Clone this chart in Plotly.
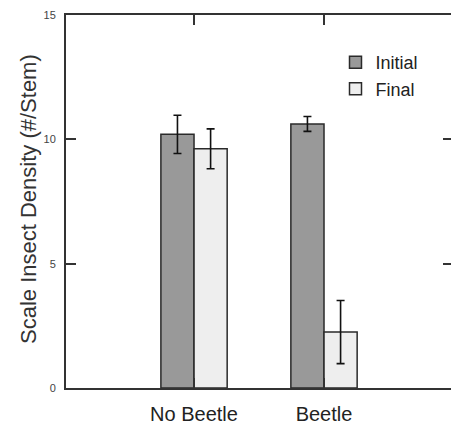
import plotly.graph_objects as go

categories = ["No Beetle", "Beetle"]
initial_vals = [10.2, 10.62]
initial_err = [0.77, 0.3]
final_vals = [9.62, 2.25]
final_err = [0.8, 1.27]
y_ticks = [0, 5, 10, 15]

fig = go.Figure()
fig.add_trace(go.Bar(
    x=categories, y=initial_vals, name="Initial",
    marker=dict(color="#999999", line=dict(color="#2a2a2a", width=1.5)),
    error_y=dict(type="data", array=initial_err, color="#111111", thickness=1.6, width=4),
))
fig.add_trace(go.Bar(
    x=categories, y=final_vals, name="Final",
    marker=dict(color="#eeeeee", line=dict(color="#2a2a2a", width=1.5)),
    error_y=dict(type="data", array=final_err, color="#111111", thickness=1.6, width=4),
))
# invisible trace to carry the right-side tick axis
fig.add_trace(go.Scatter(x=categories, y=[0, 0], yaxis="y2", mode="markers",
                         marker=dict(opacity=0), showlegend=False, hoverinfo="skip"))

fig.update_layout(
    width=451, height=427,
    margin=dict(l=66, r=0, t=15, b=39, autoexpand=False),
    paper_bgcolor="white", plot_bgcolor="white",
    barmode="group", bargap=0.49, bargroupgap=0,
    font=dict(family="Liberation Sans, Arial, sans-serif", color="#333333"),
    showlegend=True,
    legend=dict(x=0.70, y=0.922, xanchor="left", yanchor="top",
                font=dict(size=18, color="#222222"), bgcolor="rgba(0,0,0,0)",
                tracegroupgap=0, itemwidth=30),
    xaxis=dict(
        range=[-0.985, 1.977], showline=True, linecolor="#333333", linewidth=2,
        mirror="ticks", ticks="inside", ticklen=10, tickwidth=2, tickcolor="#333333",
        tickfont=dict(size=20, color="#222222"), ticklabelstandoff=7,
        showgrid=False, zeroline=False, automargin=False,
    ),
    yaxis=dict(
        range=[0, 15], tickvals=y_ticks, showline=True, linecolor="#333333", linewidth=2,
        ticks="inside", ticklen=10, tickwidth=2, tickcolor="#333333",
        tickfont=dict(size=11, color="#444444"), ticklabelstandoff=6,
        showgrid=False, zeroline=False, automargin=False,
    ),
    yaxis2=dict(
        range=[0, 15], tickvals=y_ticks, overlaying="y", side="right",
        showline=False, ticks="inside", ticklen=8, tickwidth=2, tickcolor="#333333",
        showticklabels=False, showgrid=False, zeroline=False, automargin=False,
    ),
    annotations=[dict(
        text="Scale Insect Density (#/Stem)", textangle=-90,
        xref="paper", yref="paper", x=(28 - 66) / 385, y=(388 - 199) / 373,
        xanchor="center", yanchor="middle", showarrow=False,
        font=dict(size=22, color="#333333"),
    )],
)

fig.write_html("out.html", config={"displayModeBar": False},
               post_script="document.body.style.margin='0';document.body.style.overflow='hidden';")
